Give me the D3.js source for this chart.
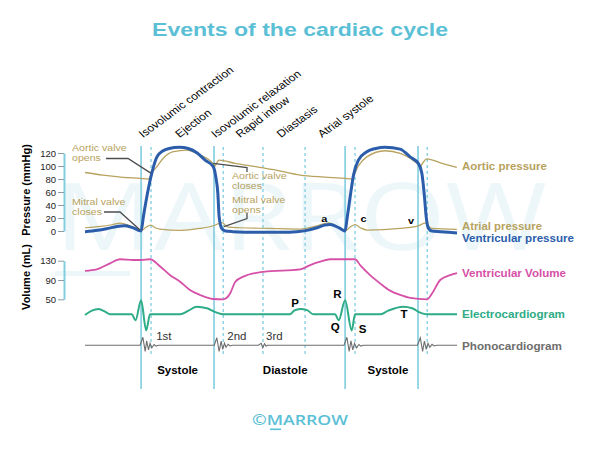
<!DOCTYPE html>
<html><head><meta charset="utf-8">
<script src="https://cdn.jsdelivr.net/npm/d3@7"></script>
<style>
html,body{margin:0;padding:0;background:#fff;}
svg{display:block;font-family:"Liberation Sans",Arial,Helvetica,sans-serif;}
</style></head><body>
<svg id="c" width="600" height="450"></svg>
<script>
// ---- data (time in ms from mitral valve closure) ----
const ventricularPressure = [[-220,-1],[-170,1],[-130,4],[-95,7],[-65,8],[-40,6],[-20,3],[-7,0.5],[0,0],[9,22],[25,58],[42,89],[62,114],[85,123],[110,127],[150,129],[185,127],[220,120],[251,109],[283,99],[293,83],[301,58],[306,22],[316,4],[330,0],[360,-1],[450,-2],[550,-2],[610,-1],[650,1],[690,5],[720,9],[740,10],[760,8],[780,4],[795,0.5],[800,0],[808,20],[820,53],[833,86],[852,109],[885,122],[920,127],[957,129],[1016,126],[1055,114],[1087,104],[1101,89],[1110,58],[1118,22],[1127,4],[1140,0],[1173,-1],[1239,-3]];
const aorticPressure = [[-220,90],[-150,86],[-80,83],[-4,81],[30,80],[40,88],[62,99],[87,112],[127,122],[179,124.5],[231,117],[271,108],[284,103],[289,100],[296,104],[305,109],[369,104],[450,99],[525,94],[624,86],[720,83],[801,81],[826,80],[836,87],[852,100],[885,114],[957,123.5],[1016,119.5],[1055,112],[1087,102.5],[1096,100],[1105,105],[1120,111],[1180,104],[1238,98]];
const atrialPressure = [[-220,5],[-161,7],[-110,10],[-82,12],[-50,9],[-20,4],[0,0.5],[20,6],[38,9],[55,5],[75,3],[153,1],[231,4],[284,8],[318,13],[330,9],[342,6],[388,5],[500,4],[624,3],[682,7],[735,12.5],[773,6],[801,0.5],[820,6],[839,10],[860,5],[885,1.5],[1016,4],[1087,8],[1114,12],[1140,4],[1238,2.6]];
const ventricularVolume = [[-220,109],[-174,112],[-122,124.6],[-82,133],[-31,131.5],[0,131.5],[35,133],[75,118],[114,100],[153,86.5],[190,70],[231,59],[282,50.6],[322,50],[349,62],[369,86],[401,97],[480,107],[624,112],[663,121],[702,128],[741,133],[800,133],[839,133],[859,121],[898,100],[937,83],[976,68],[1016,59],[1055,53],[1122,50],[1141,62],[1173,90],[1212,100],[1239,104]];
const ecg = [[-220,-0.05],[-193,0.26],[-167,0.38],[-141,0.19],[-122,0],[-36,0],[-22,-0.43],[0,1.0],[20,-1.15],[35,0],[153,0],[186,0.26],[218,0.54],[258,0.43],[297,0.12],[322,0],[584,0],[600,0.26],[624,0.38],[651,0.3],[675,0],[761,0],[775,-0.43],[800,1.0],[826,-1.15],[839,0],[937,0],[969,0.26],[1027,0.54],[1063,0.43],[1094,0.12],[1120,0],[1239,0]];
const phono = [[-220,0],[-4,0],[7,8],[16,-6],[22,4.5],[29,-4.5],[35,2],[42,-2.5],[51,0.8],[59,-0.8],[68,0],[287,0],[297,7.5],[306,-6],[314,4.3],[320,-4],[327,2],[333,-2],[341,1],[349,-0.7],[357,0],[460,0],[471,2],[477,-2.5],[484,1.5],[490,-1],[495,0],[796,0],[807,8],[816,-6],[823,4.5],[830,-4.5],[837,2],[845,-2.5],[854,0.8],[862,-0.8],[871,0],[1084,0],[1095,7.5],[1104,-6],[1111,4.3],[1118,-4],[1125,2],[1132,-2],[1141,1],[1149,-0.7],[1158,0],[1239,0]];

const solidEvents = [0, 286, 800, 1086];
const dashedEvents = [39, 322, 478, 643, 839, 1122];
const phaseBounds = [0, 39, 286, 322, 478, 643, 800];
const phaseNames = ["Isovolumic contraction","Ejection","Isovolumic relaxation","Rapid inflow","Diastasis","Atrial systole"];
const cycleLabels = ["Systole","Diastole","Systole"];
const cycleLabelTimes = [143, 565, 968];
const pressureTicks = [0,20,40,60,80,100,120];
const volumeTicks = [50,90,130];
const soundLabels = ["1st","2nd","3rd"];
const soundLabelTimes = [59, 338, 490];
const ecgWaveLabels = ["P","Q","R","S","T"];
const ecgWaveAt = [[604,0.79],[761,-0.93],[770,1.38],[869,-1.12],[1031,0.02]];
const pressureWaveLabels = ["a","c","v"];
const pressureWaveAt = [[718,20],[872,19.5],[1059,15.4]];
const seriesNames = ["Aortic pressure","Atrial pressure","Ventricular pressure","Ventricular Volume","Electrocardiogram","Phonocardiogram"];
const valveNotes = [["Aortic valve","opens"],["Mitral valve","closes"],["Aortic valve","closes"],["Mitral valve","opens"]];

// ---- styles ----
const C = {teal:"#5bbfd6", vline:"#80cddf", blue:"#2b5dab", tan:"#b7a25e", mag:"#d650a8", green:"#2dac86", gray:"#6e6e6e", ptr:"#4d4d4d"};
const SX = 1.15;

const svg = d3.select("#c");
const x = d3.scaleLinear().domain([-220,1240]).range([85,457.3]);
const yP = d3.scaleLinear().domain([0,120]).range([231,153]);
const yV = d3.scaleLinear().domain([50,130]).range([299.3,260.7]);
const yE = d3.scaleLinear().domain([0,1]).range([314.3,300.3]);
const yS = d3.scaleLinear().domain([0,10]).range([345.3,335.3]);

function txt(g, px, py, s, o={}) {
  const sx = o.len ? 1 : (o.sx || SX);
  const t = g.append("text")
    .attr("transform", `translate(${px},${py}) scale(${sx},1)` + (o.rot ? ` rotate(${o.rot})` : ""))
    .attr("font-size", o.size || 10)
    .attr("font-weight", o.weight || "normal")
    .attr("fill", o.fill || "#111")
    .attr("text-anchor", o.anchor || "start")
    .text(s);
  if (o.family) t.attr("font-family", o.family);
  if (o.len) t.attr("textLength", o.len).attr("lengthAdjust", "spacingAndGlyphs");
  return t;
}

// watermark
const wm = svg.append("g");
txt(wm, 55, 250, "MARROW", {size:94, fill:"#edf7fa", len:492, family:"'Open Sans',sans-serif"});
wm.append("rect").attr("x",55).attr("y",271).attr("width",75).attr("height",5).attr("fill","#edf7fa");

// title
txt(svg, 300, 35.5, "Events of the cardiac cycle", {size:18, weight:"bold", fill:C.teal, anchor:"middle", len:296});

// vertical event lines
svg.append("g").selectAll("line").data(solidEvents).join("line")
  .attr("x1", d=>x(d)).attr("x2", d=>x(d)).attr("y1",146).attr("y2",389)
  .attr("stroke", C.vline).attr("stroke-width",1.6);
svg.append("g").selectAll("line").data(dashedEvents).join("line")
  .attr("x1", d=>x(d)).attr("x2", d=>x(d)).attr("y1",147).attr("y2",356)
  .attr("stroke", C.vline).attr("stroke-width",1.3).attr("stroke-dasharray","3,3");

// axes
function styleAxis(ax){
  ax.select(".domain").attr("stroke", C.vline).attr("stroke-width",2);
  ax.selectAll(".tick line").attr("stroke","#8c9ea3").attr("stroke-width",1);
  ax.selectAll(".tick text").attr("font-size",9.5).attr("fill","#222")
    .attr("font-family","'Liberation Sans',Arial,sans-serif");
}
const axP = svg.append("g").attr("transform","translate(64,0)")
  .call(d3.axisLeft(yP).tickValues(pressureTicks).tickSize(6).tickSizeOuter(0).tickPadding(2));
styleAxis(axP);
const axV = svg.append("g").attr("transform","translate(64,0)")
  .call(d3.axisLeft(yV).tickValues(volumeTicks).tickSize(6).tickSizeOuter(0).tickPadding(2));
styleAxis(axV);
txt(svg, 30, 190, "Pressure (mmHg)", {size:11, weight:"bold", sx:1, rot:-90, anchor:"middle", fill:"#000"});
txt(svg, 30, 277, "Volume (mL)", {size:11, weight:"bold", sx:1, rot:-90, anchor:"middle", fill:"#000"});

// curves
const lineP = d3.line().x(d=>x(d[0])).y(d=>yP(d[1])).curve(d3.curveMonotoneX);
const lineV = d3.line().x(d=>x(d[0])).y(d=>yV(d[1])).curve(d3.curveMonotoneX);
const lineE = d3.line().x(d=>x(d[0])).y(d=>yE(d[1])).curve(d3.curveMonotoneX);
const lineS = d3.line().x(d=>x(d[0])).y(d=>yS(d[1])).curve(d3.curveLinear);

svg.append("path").attr("d", lineP(aorticPressure)).attr("fill","none").attr("stroke",C.tan).attr("stroke-width",1.3);
svg.append("path").attr("d", lineP(atrialPressure)).attr("fill","none").attr("stroke",C.tan).attr("stroke-width",1.2);
svg.append("path").attr("d", lineP(ventricularPressure)).attr("fill","none").attr("stroke",C.blue).attr("stroke-width",3).attr("stroke-linejoin","round");
svg.append("path").attr("d", lineV(ventricularVolume)).attr("fill","none").attr("stroke",C.mag).attr("stroke-width",1.8);
svg.append("path").attr("d", lineE(ecg)).attr("fill","none").attr("stroke",C.green).attr("stroke-width",2);
svg.append("path").attr("d", lineS(phono)).attr("fill","none").attr("stroke",C.gray).attr("stroke-width",1.1);

// series labels on the right
const seriesColors = [C.tan, C.tan, C.blue, C.mag, C.green, C.gray];
const seriesBaselines = [170, 229.5, 241.5, 276.5, 317.5, 350];
const seriesWidths = [85, 80, 112, 104, 103, 100];
seriesNames.forEach((s,i)=>txt(svg, 462, seriesBaselines[i], s, {size:10, weight:"bold", fill:seriesColors[i], len:seriesWidths[i]}));

// phase labels (rotated)
phaseNames.forEach((s,i)=>{
  const mid = x((phaseBounds[i]+phaseBounds[i+1])/2) - 3;
  txt(svg, mid, 138, s, {size:10.5, rot:-40, fill:"#000"});
});

// systole / diastole
cycleLabels.forEach((s,i)=>txt(svg, x(cycleLabelTimes[i]), 374, s, {size:10, weight:"bold", anchor:"middle", fill:"#000"}));

// heart sound labels
soundLabels.forEach((s,i)=>txt(svg, x(soundLabelTimes[i]), 339.5, s, {size:10, fill:"#333"}));

// ECG wave labels
ecgWaveLabels.forEach((s,i)=>txt(svg, x(ecgWaveAt[i][0]), yE(ecgWaveAt[i][1])+3.5, s, {size:10, weight:"bold", anchor:"middle", fill:"#000"}));
// pressure wave labels
pressureWaveLabels.forEach((s,i)=>txt(svg, x(pressureWaveAt[i][0]), yP(pressureWaveAt[i][1])+3.5, s, {size:9.5, weight:"bold", anchor:"middle", fill:"#000"}));

// valve annotations
const ann = svg.append("g");
function pointer(pts){
  ann.append("path").attr("d", d3.line()(pts)).attr("fill","none").attr("stroke",C.ptr).attr("stroke-width",1.3);
}
const notePos = [[72,151],[72,205],[232,179],[232,202.5]];
valveNotes.forEach((lines,i)=>{
  lines.forEach((s,j)=>txt(ann, notePos[i][0], notePos[i][1] + j*10, s, {size:9.2, fill:C.tan}));
});
pointer([[106,158.5],[128,158.5],[x(38),yP(89)]]);
pointer([[104,212],[120,212],[x(-4),yP(1.5)]]);
pointer([[x(283),yP(104)],[247,167.5],[247,172]]);
pointer([[247,213],[247,218.5],[x(325),yP(6.6)]]);

// footer
txt(svg, 300, 425, "\u00A9MARROW", {size:14, weight:"600", fill:C.teal, anchor:"middle", len:96, family:"'Open Sans',sans-serif"});
svg.append("rect").attr("x",270).attr("y",428.5).attr("width",11).attr("height",1.6).attr("fill",C.teal);
</script>
</body></html>
